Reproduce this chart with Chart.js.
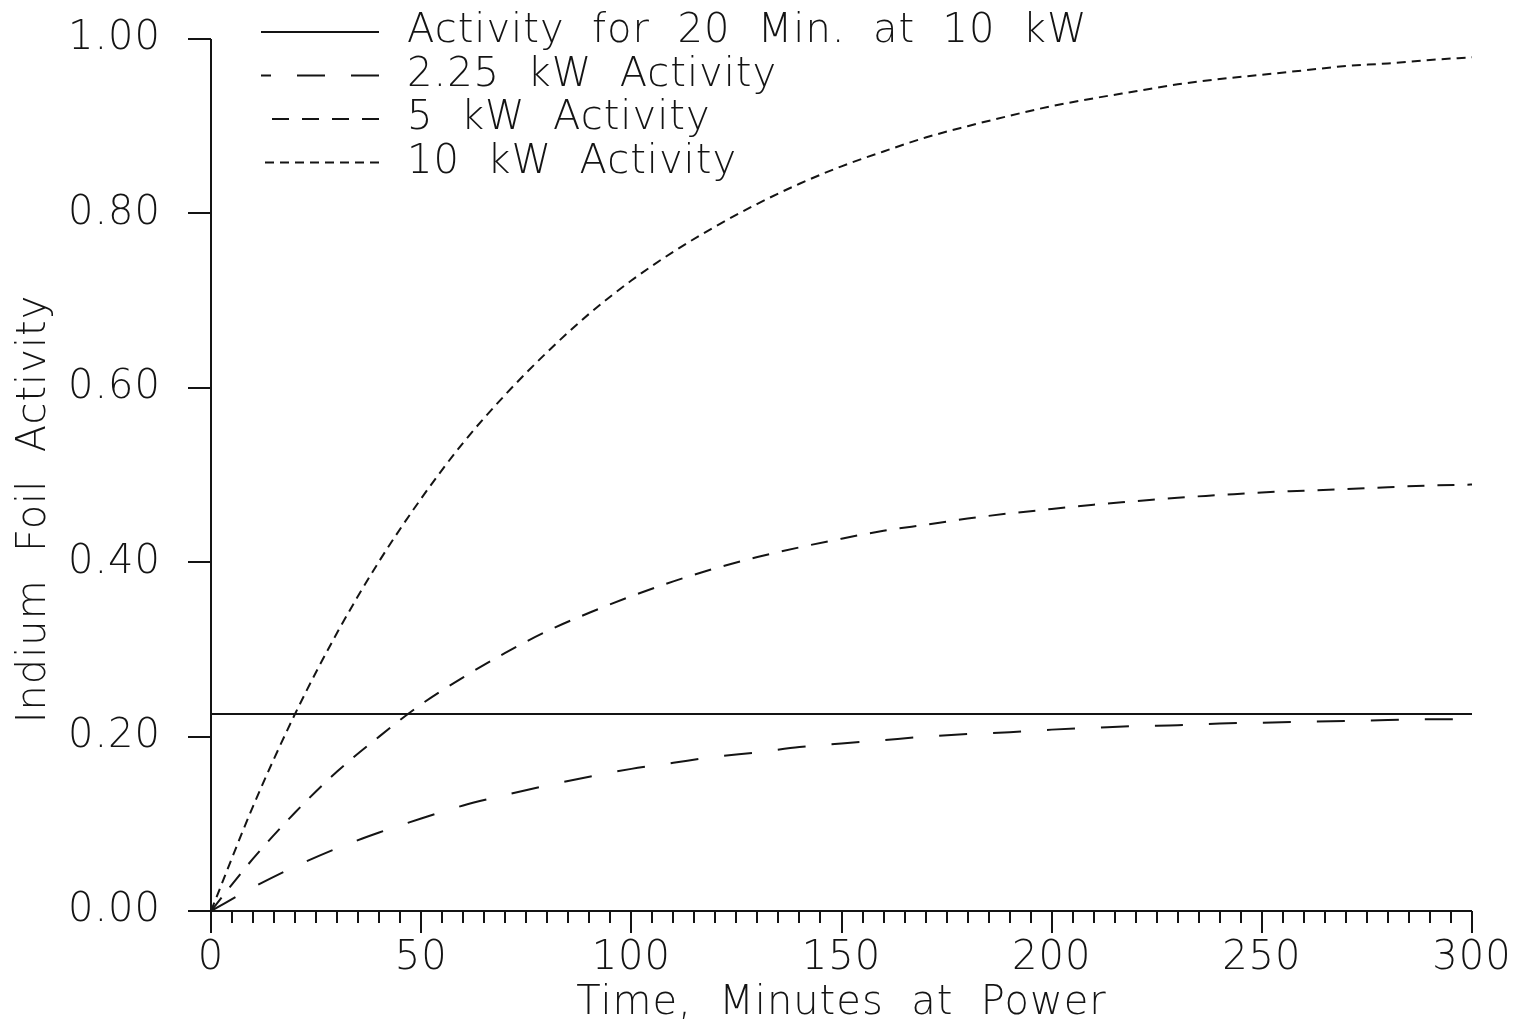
<!DOCTYPE html>
<html>
<head>
<meta charset="utf-8">
<title>Indium Foil Activity</title>
<script src="https://cdn.jsdelivr.net/npm/chart.js@4.4.1/dist/chart.umd.min.js"></script>
<style>
  html, body { margin: 0; padding: 0; background: #ffffff; }
  #wrap { position: relative; width: 1521px; height: 1028px; }
</style>
</head>
<body>
<div id="wrap"><canvas id="chart"></canvas></div>
<script>
// Irradiation time in minutes at power
const minutes = [0, 10, 20, 30, 40, 50, 60, 70, 80, 90, 100, 110, 120, 130, 140, 150,
                 160, 170, 180, 190, 200, 210, 220, 230, 240, 250, 260, 270, 280, 290, 300];

// Relative indium foil activity for each reactor power
const activity10kW = [0.000, 0.120, 0.226, 0.319, 0.401, 0.473, 0.537, 0.592, 0.641, 0.685, 0.723,
                      0.756, 0.785, 0.811, 0.834, 0.854, 0.871, 0.887, 0.900, 0.912, 0.923,
                      0.932, 0.940, 0.948, 0.954, 0.959, 0.964, 0.969, 0.972, 0.976, 0.979];
const activity5kW  = [0.000, 0.060, 0.113, 0.160, 0.200, 0.237, 0.268, 0.296, 0.321, 0.342, 0.361,
                      0.378, 0.393, 0.406, 0.417, 0.427, 0.436, 0.443, 0.450, 0.456, 0.461,
                      0.466, 0.470, 0.474, 0.477, 0.480, 0.482, 0.484, 0.486, 0.488, 0.489];
const activity2p25kW = [0.000, 0.027, 0.051, 0.072, 0.090, 0.106, 0.121, 0.133, 0.144, 0.154, 0.163,
                        0.170, 0.177, 0.182, 0.188, 0.192, 0.196, 0.200, 0.203, 0.205, 0.208,
                        0.210, 0.212, 0.213, 0.215, 0.216, 0.217, 0.218, 0.219, 0.220, 0.220];

// Activity reached after 20 minutes at 10 kW, drawn across the whole time span
const referenceMinutes = [0, 300];
const referenceActivity = [0.226, 0.226];

// Axis ticks and labels
const xMajorTicks = [0, 50, 100, 150, 200, 250, 300];
const xMinorStep = 5;
const yTicks = [0.0, 0.2, 0.4, 0.6, 0.8, 1.0];
const yTickLabels = ['0.00', '0.20', '0.40', '0.60', '0.80', '1.00'];

const seriesLabels = ['Activity  for  20  Min.  at  10  kW', '2.25  kW  Activity', '5  kW  Activity', '10  kW  Activity'];
const xTitle = 'Time,  Minutes  at  Power';
const yTitle = 'Indium  Foil  Activity';

const INK = '#141414';
const FONT_FAMILY = '"DejaVu Sans", "Liberation Sans", sans-serif';
const FONT_SIZE = 40;
const FONT_WEIGHT = 200;
const LETTER_SPACING = '1px';
const fontCss = `${FONT_WEIGHT} ${FONT_SIZE}px ${FONT_FAMILY}`;

const toPoints = (xs, ys) => xs.map((v, i) => ({ x: v, y: ys[i] }));

// Plotter-style axes: left and bottom lines, outward ticks, long ticks every 50 minutes
const plotterAxes = {
  id: 'plotterAxes',
  beforeDraw(chart) {
    chart.ctx.letterSpacing = LETTER_SPACING;
  },
  afterDatasetsDraw(chart) {
    const { ctx, chartArea: a, scales: { x, y } } = chart;
    const yTickLen = 23, xMinorLen = 12, xMajorLen = 22;
    ctx.save();
    ctx.strokeStyle = INK;
    ctx.lineWidth = 2;
    ctx.setLineDash([]);
    ctx.beginPath();
    ctx.moveTo(a.left, a.top);
    ctx.lineTo(a.left, a.bottom);
    ctx.moveTo(a.left - yTickLen, a.bottom);
    ctx.lineTo(a.right, a.bottom);
    yTicks.forEach(v => {
      const py = Math.round(y.getPixelForValue(v));
      ctx.moveTo(a.left - yTickLen, py);
      ctx.lineTo(a.left, py);
    });
    for (let m = x.min; m <= x.max; m += xMinorStep) {
      const px = Math.round(x.getPixelForValue(m));
      const len = xMajorTicks.includes(m) ? xMajorLen : xMinorLen;
      ctx.moveTo(px, a.bottom);
      ctx.lineTo(px, a.bottom + len);
    }
    ctx.stroke();

    // axis titles
    ctx.fillStyle = INK;
    ctx.font = fontCss;
    ctx.letterSpacing = LETTER_SPACING;
    ctx.textAlign = 'center';
    ctx.textBaseline = 'middle';
    ctx.fillText(xTitle, (a.left + a.right) / 2, 1004);
    ctx.translate(35, 509);
    ctx.rotate(-Math.PI / 2);
    ctx.fillText(yTitle, 0, 0);
    ctx.restore();
  }
};

// Key in the upper left, with each series' own dash pattern (dashes laid from the right end)
const seriesKey = {
  id: 'seriesKey',
  afterDraw(chart) {
    const { ctx } = chart;
    ctx.save();
    ctx.font = fontCss;
    ctx.letterSpacing = LETTER_SPACING;
    ctx.fillStyle = INK;
    ctx.textAlign = 'left';
    ctx.textBaseline = 'middle';
    chart.data.datasets.forEach((ds, i) => {
      const rowY = 32 + i * 43.5;
      ctx.strokeStyle = ds.borderColor;
      ctx.lineWidth = ds.borderWidth;
      ctx.setLineDash(ds.borderDash || []);
      ctx.beginPath();
      ctx.moveTo(379, rowY);
      ctx.lineTo(261, rowY);
      ctx.stroke();
      ctx.fillText(ds.label, 407, rowY);
    });
    ctx.restore();
  }
};

const lineStyle = { borderColor: INK, borderWidth: 2, pointRadius: 0, fill: false, cubicInterpolationMode: 'monotone' };

new Chart(document.getElementById('chart'), {
  type: 'line',
  data: {
    datasets: [
      { ...lineStyle, label: seriesLabels[0], data: toPoints(referenceMinutes, referenceActivity), borderDash: [] },
      { ...lineStyle, label: seriesLabels[1], data: toPoints(minutes, activity2p25kW), borderDash: [28, 26] },
      { ...lineStyle, label: seriesLabels[2], data: toPoints(minutes, activity5kW), borderDash: [17, 13] },
      { ...lineStyle, label: seriesLabels[3], data: toPoints(minutes, activity10kW), borderDash: [9, 6] }
    ]
  },
  options: {
    responsive: true,
    maintainAspectRatio: false,
    animation: false,
    layout: { padding: { left: 0, right: 49, top: 39, bottom: 0 } },
    plugins: { legend: { display: false }, tooltip: { enabled: false } },
    scales: {
      x: {
        type: 'linear',
        min: 0,
        max: 300,
        afterFit(scale) {
          scale.height = 117;
          scale.paddingLeft = 0;
          scale.paddingRight = 0;
        },
        afterBuildTicks(scale) { scale.ticks = xMajorTicks.map(v => ({ value: v })); },
        grid: { display: false, drawTicks: false },
        border: { display: false },
        ticks: {
          padding: 24,
          maxRotation: 0,
          autoSkip: false,
          color: INK,
          font: { family: FONT_FAMILY, size: FONT_SIZE, weight: FONT_WEIGHT }
        }
      },
      y: {
        type: 'linear',
        min: 0,
        max: 1,
        afterFit(scale) {
          scale.width = 211;
          scale.paddingTop = 0;
          scale.paddingBottom = 0;
        },
        afterBuildTicks(scale) { scale.ticks = yTicks.map(v => ({ value: v })); },
        grid: { display: false, drawTicks: false },
        border: { display: false },
        ticks: {
          padding: 50,
          autoSkip: false,
          color: INK,
          font: { family: FONT_FAMILY, size: FONT_SIZE, weight: FONT_WEIGHT },
          callback: (v) => yTickLabels[yTicks.findIndex(t => Math.abs(t - v) < 1e-9)]
        }
      }
    }
  },
  plugins: [plotterAxes, seriesKey]
});
</script>
</body>
</html>
